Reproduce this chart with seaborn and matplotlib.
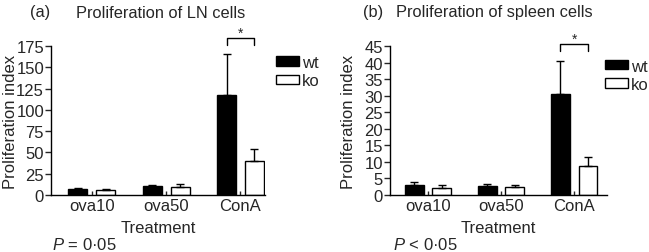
import numpy as np
import pandas as pd
import matplotlib
matplotlib.use("Agg")
import matplotlib.pyplot as plt
import seaborn as sns

# values (mean and upper error)
treatments = ["ova10", "ova50", "ConA"]
genotypes = ["wt", "ko"]

ln_wt = [6.5, 10, 118]
ln_ko = [5.5, 9.5, 40]
ln_wt_err = [1.5, 1.5, 48]
ln_ko_err = [2, 3.5, 14]

sp_wt = [3.1, 2.8, 30.5]
sp_ko = [2.2, 2.4, 8.8]
sp_wt_err = [0.8, 0.5, 10]
sp_ko_err = [0.7, 0.6, 2.7]

ln_ticks = np.arange(0, 176, 25)
sp_ticks = np.arange(0, 46, 5)

sns.set_style("ticks")
plt.rcParams["font.family"] = ["Liberation Sans", "DejaVu Sans"]
plt.rcParams["mathtext.fontset"] = "custom"
plt.rcParams["mathtext.it"] = "Liberation Sans:italic"
plt.rcParams["mathtext.rm"] = "Liberation Sans"
FS = 12
TFS = 11.8


def make_df(wt, ko):
    rows = []
    for t, w, k in zip(treatments, wt, ko):
        rows.append({"Treatment": t, "genotype": "wt", "value": w})
        rows.append({"Treatment": t, "genotype": "ko", "value": k})
    return pd.DataFrame(rows)


def panel(ax, wt, ko, wt_err, ko_err, ticks, xlim, brk, legend_pos):
    df = make_df(wt, ko)
    sns.barplot(data=df, x="Treatment", y="value", hue="genotype",
                hue_order=genotypes, palette={"wt": "black", "ko": "white"},
                edgecolor="black", linewidth=1, width=0.75, gap=0.32,
                errorbar=None, ax=ax)
    # upper error bars only
    for cont, err in zip(ax.containers, [wt_err, ko_err]):
        xs = [b.get_x() + b.get_width() / 2 for b in cont]
        hs = [b.get_height() for b in cont]
        ax.errorbar(xs, hs, yerr=[np.zeros(len(err)), err], fmt="none",
                    ecolor="black", elinewidth=1, capsize=3.2, capthick=1)
    # significance bracket over ConA
    xw = ax.containers[0][2].get_x() + ax.containers[0][2].get_width() / 2
    xk = ax.containers[1][2].get_x() + ax.containers[1][2].get_width() / 2
    ax.plot([xw, xw, xk, xk], [brk[0], brk[1], brk[1], brk[0]],
            color="black", lw=1, clip_on=False)
    ax.text((xw + xk) / 2, brk[2], "*", ha="center", va="center", fontsize=10)

    ax.set_ylim(0, ticks[-1])
    ax.set_yticks(ticks)
    ax.set_xlim(*xlim)
    ax.tick_params(axis="y", direction="out", length=4, width=1, labelsize=FS, pad=1)
    ax.tick_params(axis="x", direction="in", length=3, width=1, labelsize=FS, pad=2)
    sns.despine(ax=ax)
    for s in ["left", "bottom"]:
        ax.spines[s].set_linewidth(1)
        ax.spines[s].set_color("black")
    ax.set_ylabel("Proliferation index", fontsize=FS)
    ax.set_xlabel("Treatment", fontsize=FS)
    ax.yaxis.set_label_coords(-0.155, 0.5)
    ax.xaxis.set_label_coords(0.5, -0.165)

    handles = [ax.containers[0][0], ax.containers[1][0]]
    ax.legend(handles, genotypes, loc="upper left", bbox_to_anchor=legend_pos,
              frameon=False, fontsize=FS, borderpad=0, handlelength=1.4,
              handleheight=0.5, handletextpad=0.15, labelspacing=0.2,
              borderaxespad=0)


fig = plt.figure(figsize=(6.49, 2.53), dpi=100)
ax1 = fig.add_axes([51 / 649, 57 / 253, 214 / 649, 149 / 253])
ax2 = fig.add_axes([390 / 649, 57 / 253, 217 / 649, 149 / 253])

panel(ax1, ln_wt, ln_ko, ln_wt_err, ln_ko_err, ln_ticks, (-0.55, 2.33),
      (176.5, 184.5, 190), (1.05, 0.94))
panel(ax2, sp_wt, sp_ko, sp_wt_err, sp_ko_err, sp_ticks, (-0.52, 2.45),
      (43.6, 45.7, 47.3), (0.99, 0.915))

ty = 1 - 13 / 253
fig.text(30 / 649, ty, "(a)", fontsize=TFS, va="center", ha="left")
fig.text(76 / 649, ty, "Proliferation of LN cells", fontsize=TFS, va="center", ha="left")
fig.text(363 / 649, ty, "(b)", fontsize=TFS, va="center", ha="left")
fig.text(396 / 649, ty, "Proliferation of spleen cells", fontsize=TFS, va="center", ha="left")

py = 1 - 245 / 253
fig.text(52 / 649, py, "$P$ = 0·05", fontsize=FS, va="center", ha="left")
fig.text(393 / 649, py, "$P$ < 0·05", fontsize=FS, va="center", ha="left")

fig.savefig("out.png", dpi=100)
